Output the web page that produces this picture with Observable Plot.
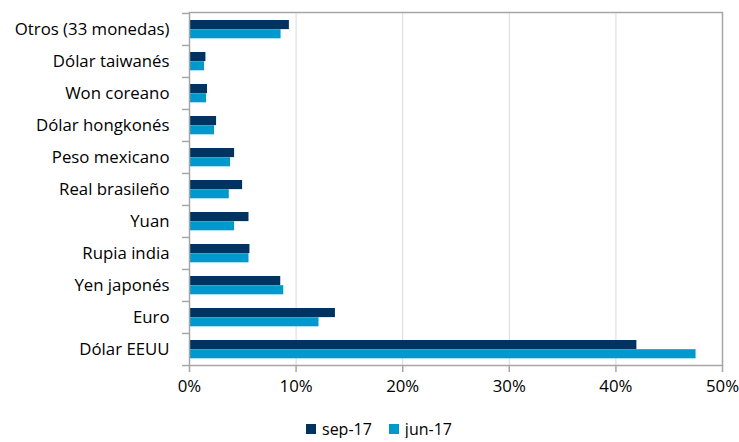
<!DOCTYPE html>
<html>
<head>
<meta charset="utf-8">
<script src="https://cdn.jsdelivr.net/npm/d3@7"></script>
<script src="https://cdn.jsdelivr.net/npm/@observablehq/plot@0.6"></script>
<style>
  html, body { margin: 0; padding: 0; background: #fff; overflow: hidden; }
  #chart { width: 739px; }
  .legend { display: flex; align-items: center; margin-left: 306px; margin-top: 14px; height: 18px; line-height: 18px;
            font-family: "Open Sans", sans-serif; font-size: 16px; color: #000; }
  .legend .sw { width: 10px; height: 10px; display: inline-block; margin-right: 6px; }
  .legend .item { display: flex; align-items: center; margin-right: 17px; }
</style>
</head>
<body>
<div id="chart"></div>
<script>
const categories = ["Otros (33 monedas)", "Dólar taiwanés", "Won coreano", "Dólar hongkonés", "Peso mexicano",
  "Real brasileño", "Yuan", "Rupia india", "Yen japonés", "Euro", "Dólar EEUU"];
const sep17 = [9.37, 1.54, 1.69, 2.54, 4.23, 4.98, 5.58, 5.67, 8.56, 13.69, 41.97];
const jun17 = [8.59, 1.41, 1.60, 2.35, 3.85, 3.73, 4.23, 5.58, 8.84, 12.15, 47.52];
const seriesNames = ["sep-17", "jun-17"];
const seriesColors = ["#00335F", "#0099CC"];
const xTicks = [0, 10, 20, 30, 40, 50];

const sepData = categories.map((c, i) => ({cat: c, v: sep17[i]}));
const junData = categories.map((c, i) => ({cat: c, v: jun17[i]}));

const W = 739, H = 406, mT = 12, mB = 41, mL = 189, mR = 17;
const step = (H - mT - mB) / categories.length;
const axisGray = "#A6A6A6";

const plot = Plot.plot({
  width: W, height: H,
  marginTop: mT, marginBottom: mB, marginLeft: mL, marginRight: mR,
  style: {fontFamily: "'Open Sans', sans-serif", fontSize: "16.8px", color: "#000", background: "#fff"},
  x: {domain: [0, 50]},
  y: {domain: categories, padding: 0, label: null},
  marks: [
    Plot.gridX(xTicks.slice(1, -1), {stroke: "#D9D9D9", strokeOpacity: 1, strokeWidth: 1}),
    Plot.barX(sepData, {y: "cat", x: "v", fill: seriesColors[0], insetTop: 7, insetBottom: step - 16.2}),
    Plot.barX(junData, {y: "cat", x: "v", fill: seriesColors[1], insetTop: 16.2, insetBottom: step - 25.4}),
    Plot.frame({stroke: axisGray, strokeWidth: 1.5}),
    Plot.ruleY(categories, {y: d => d, x1: 0, x2: 0, insetLeft: -7, dy: -step / 2, stroke: axisGray, strokeWidth: 1.5}),
    Plot.ruleY(categories.slice(-1), {y: d => d, x1: 0, x2: 0, insetLeft: -7, dy: step / 2, stroke: axisGray, strokeWidth: 1.5}),
    Plot.axisY({tickSize: 0, tickPadding: 20, label: null, fill: "#000"}),
    Plot.axisX(xTicks, {tickSize: 7, tickPadding: 8, tickFormat: d => d + "%", stroke: axisGray, strokeWidth: 1.5, fill: "#000", label: null})
  ]
});
document.getElementById("chart").appendChild(plot);

const legend = document.createElement("div");
legend.className = "legend";
seriesNames.forEach((n, i) => {
  const it = document.createElement("span");
  it.className = "item";
  const sw = document.createElement("span");
  sw.className = "sw";
  sw.style.background = seriesColors[i];
  it.appendChild(sw);
  it.appendChild(document.createTextNode(n));
  legend.appendChild(it);
});
document.getElementById("chart").appendChild(legend);
</script>
</body>
</html>
